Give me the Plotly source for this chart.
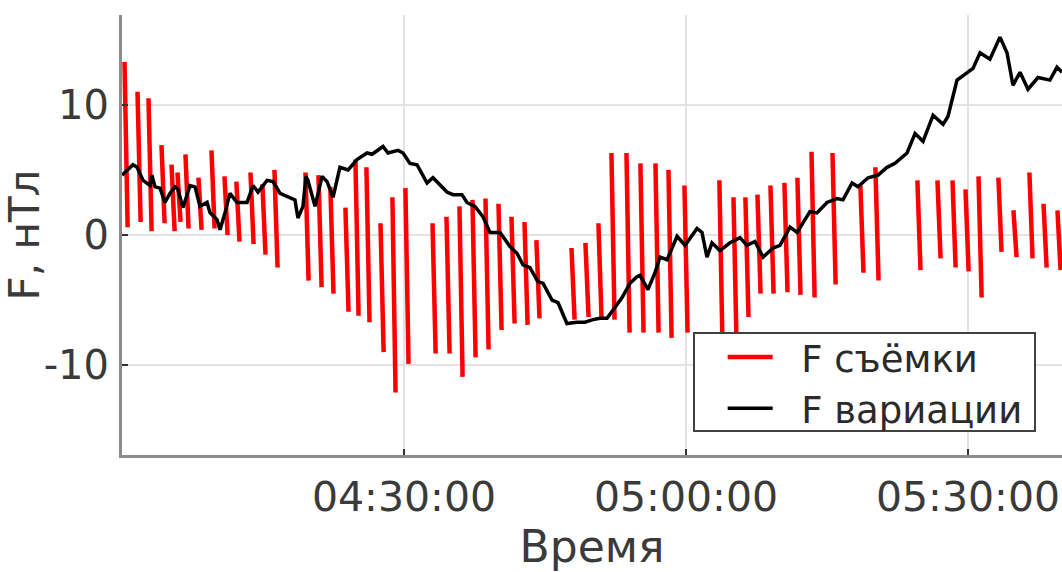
import pandas as pd
import plotly.graph_objects as go

DAY = "2020-01-01 "

# F variation (black line): time, value (nT)
var_time = ["04:00:00", "04:01:10", "04:01:36", "04:02:14", "04:02:59", "04:03:11", "04:03:31",
            "04:04:03", "04:04:34", "04:05:06", "04:05:38", "04:05:57", "04:06:29", "04:07:14",
            "04:07:46", "04:08:18", "04:09:03", "04:09:22", "04:10:06", "04:10:26", "04:10:57",
            "04:11:29", "04:12:14", "04:13:18", "04:13:56", "04:14:28", "04:15:26", "04:16:04",
            "04:16:49", "04:17:52", "04:18:24", "04:18:43", "04:19:15", "04:19:34", "04:19:47",
            "04:20:32", "04:21:17", "04:21:49", "04:22:27", "04:23:11", "04:24:03", "04:25:00",
            "04:26:04", "04:26:36", "04:27:46", "04:28:18", "04:29:22", "04:29:54", "04:30:38",
            "04:31:23", "04:32:27", "04:33:05", "04:33:50", "04:34:34", "04:35:13", "04:36:10",
            "04:36:42", "04:37:33", "04:38:24", "04:39:09", "04:40:13", "04:41:17", "04:42:01",
            "04:42:40", "04:43:24", "04:44:15", "04:44:47", "04:45:45", "04:46:23", "04:47:20",
            "04:48:24", "04:49:15", "04:50:06", "04:50:51", "04:51:36", "04:52:14", "04:53:12",
            "04:54:03", "04:54:47", "04:55:06", "04:55:57", "04:56:42", "04:57:14", "04:57:59",
            "04:59:03", "04:59:54", "05:01:10", "05:01:42", "05:02:14", "05:02:46", "05:03:37",
            "05:04:41", "05:05:45", "05:06:29", "05:07:20", "05:08:12", "05:09:15", "05:10:00",
            "05:11:04", "05:11:49", "05:13:11", "05:13:56", "05:15:00", "05:16:04", "05:16:42",
            "05:17:40", "05:18:18", "05:19:22", "05:20:26", "05:21:23", "05:22:14", "05:23:31",
            "05:24:22", "05:25:13", "05:26:17", "05:27:21", "05:27:52", "05:28:50", "05:29:54",
            "05:30:32", "05:31:17", "05:32:20", "05:33:24", "05:34:09", "05:34:47", "05:35:32",
            "05:36:23", "05:37:27", "05:38:43", "05:39:28", "05:40:00"]
var_value = [4.6, 5.4, 5.2, 4.2, 3.8, 4.6, 3.7,
             3.6, 2.5, 3.2, 3.7, 3.5, 2.1, 3.8,
             3.7, 2.2, 2.5, 1.7, 1.2, 0.4, 1.7,
             3.2, 2.5, 2.5, 3.8, 3.3, 4.2, 4.1,
             3.2, 2.9, 2.7, 1.3, 2.2, 4.5, 4.2,
             2.2, 4.5, 4.1, 2.9, 5.2, 5.0, 5.8,
             6.3, 6.2, 6.8, 6.3, 6.5, 6.3, 5.5,
             5.4, 4.0, 4.4, 3.8, 3.3, 3.1, 3.1,
             2.5, 2.2, 1.4, 0.2, 0.2, -0.9, -1.4,
             -2.3, -2.5, -3.6, -3.7, -5.0, -5.2, -6.8,
             -6.7, -6.7, -6.5, -6.4, -6.4, -5.8, -4.8,
             -3.7, -3.2, -3.1, -4.2, -2.9, -1.7, -1.9,
             -0.1, -0.8, 0.5, 0.2, -1.7, -0.6, -1.2,
             -0.6, -0.2, -0.8, -0.5, -1.7, -1.0, -0.8,
             0.6, 0.2, 1.8, 1.7, 2.5, 2.8, 2.7,
             4.0, 3.7, 4.4, 4.6, 5.2, 5.5, 6.3,
             7.8, 7.2, 9.2, 8.5, 9.1, 11.9, 12.5,
             12.8, 14.0, 13.5, 15.2, 14.0, 11.5, 12.5,
             11.2, 12.1, 11.9, 12.9, 12.5]

# F survey passes (red strokes): centre time, highest and lowest value in the pass
pass_time = ["04:00:26", "04:01:49", "04:02:59", "04:04:22", "04:05:26", "04:06:04", "04:06:55",
             "04:08:18", "04:09:41", "04:11:04", "04:12:20", "04:13:50", "04:15:06", "04:16:23",
             "04:19:41", "04:21:04", "04:22:20", "04:23:56", "04:25:00", "04:26:10", "04:27:40",
             "04:28:56", "04:30:19", "04:33:12", "04:34:41", "04:36:04", "04:37:27", "04:38:50",
             "04:40:13", "04:41:36", "04:42:59", "04:44:15", "04:47:59", "04:49:28", "04:50:51",
             "04:52:14", "04:53:50", "04:55:19", "04:56:55", "04:58:18", "05:00:00", "05:03:43",
             "05:05:13", "05:06:29", "05:07:46", "05:09:09", "05:10:38", "05:12:01", "05:13:31",
             "05:15:45", "05:18:43", "05:20:19", "05:24:47", "05:26:55", "05:28:31", "05:29:54",
             "05:31:17", "05:33:24", "05:35:00", "05:36:42", "05:38:12", "05:39:41"]
pass_high = [13.3, 11.0, 10.5, 6.9, 5.4, 4.8, 6.2,
             4.4, 6.5, 4.5, 4.1, 4.8, 3.9, 5.0,
             4.8, 4.6, 3.7, 2.1, 5.8, 5.2, 0.9,
             2.9, 3.6, 0.9, 1.4, 2.2, 2.7, 2.8,
             2.4, 1.4, 1.0, -0.4, -1.0, -0.6, 0.9,
             6.3, 6.3, 5.5, 5.5, 5.0, 3.8, 4.2,
             2.9, 2.9, 3.1, 3.8, 4.0, 4.4, 6.4,
             6.3, 3.8, 5.2, 4.2, 4.2, 4.2, 3.5,
             4.5, 4.4, 1.9, 4.8, 2.4, 1.9]
pass_low = [0.6, 1.0, 0.3, 0.9, 0.3, 1.0, 0.5,
            0.4, 0.5, 0.0, -0.5, -0.7, -1.5, -2.5,
            -3.5, -4.0, -4.5, -5.9, -6.2, -6.7, -9.0,
            -12.1, -9.9, -9.1, -9.1, -10.9, -9.4, -8.8,
            -7.3, -6.8, -6.9, -6.4, -6.5, -6.3, -6.5,
            -6.5, -7.5, -7.5, -7.5, -7.9, -7.5, -8.5,
            -8.5, -6.3, -4.5, -4.5, -4.4, -4.6, -4.8,
            -3.8, -2.9, -3.5, -2.7, -1.8, -2.5, -2.8,
            -4.8, -1.3, -1.7, -1.8, -2.5, -2.7]

x_ticks = ["04:30:00", "05:00:00", "05:30:00"]
y_ticks = [-10, 0, 10]

half_pass = pd.Timedelta(seconds=10)
px_, py_ = [], []
for t, hi, lo in zip(pass_time, pass_high, pass_low):
    tc = pd.Timestamp(DAY + t)
    px_ += [tc - half_pass, tc + half_pass, None]
    py_ += [hi, lo, None]

NB = "\u00a0"
fig = go.Figure()
fig.add_trace(go.Scatter(x=px_, y=py_, mode="lines", name=NB * 2 + "F съёмки",
                         line=dict(color="#ff0000", width=4.5), connectgaps=False))
fig.add_trace(go.Scatter(x=[pd.Timestamp(DAY + t) for t in var_time], y=var_value,
                         mode="lines", name=NB * 2 + "F вариации",
                         line=dict(color="#000000", width=3.5)))

font = "DejaVu Sans"
txt = "#3a3a3a"
fig.update_layout(
    width=1062, height=572,
    margin=dict(l=122, r=0, t=15, b=117),
    paper_bgcolor="white", plot_bgcolor="white",
    font=dict(family=font, size=40, color=txt),
    showlegend=True,
    legend=dict(x=0.639, y=0.292, xanchor="left", yanchor="top",
                bgcolor="rgba(0,0,0,0)", borderwidth=0,
                font=dict(family=font, size=37, color="#2a2a2a"),
                tracegroupgap=0, itemwidth=45),
    shapes=[dict(type="rect", xref="paper", yref="paper",
                 x0=0.6085, x1=0.9713, y0=0.0545, y1=0.2773,
                 fillcolor="white", line=dict(color="#404040", width=2),
                 layer="above")],
)
fig.update_xaxes(
    type="date",
    range=[DAY + "04:00:00", DAY + "05:40:00"],
    tickvals=[DAY + t for t in x_ticks], ticktext=x_ticks,
    ticks="inside", ticklen=6, tickwidth=1.5, tickcolor="#333333",
    showgrid=True, gridcolor="#e3e3e3", gridwidth=2,
    showline=True, linecolor="#8c8c8c", linewidth=3,
    zeroline=False,
    title=dict(text="Время", font=dict(family=font, size=44, color=txt), standoff=10),
    tickfont=dict(family=font, size=41, color=txt),
    ticklabelstandoff=4,
)
fig.update_yaxes(
    range=[-16.9, 16.9],
    tickvals=y_ticks, ticktext=[str(v) for v in y_ticks],
    ticks="inside", ticklen=6, tickwidth=1.5, tickcolor="#333333",
    showgrid=True, gridcolor="#e3e3e3", gridwidth=2,
    showline=True, linecolor="#8c8c8c", linewidth=3,
    zeroline=False,
    title=dict(text="F, нТл", font=dict(family=font, size=42, color=txt), standoff=0),
    tickfont=dict(family=font, size=40, color=txt),
    ticklabelstandoff=2,
)

fig.write_html("out.html")
